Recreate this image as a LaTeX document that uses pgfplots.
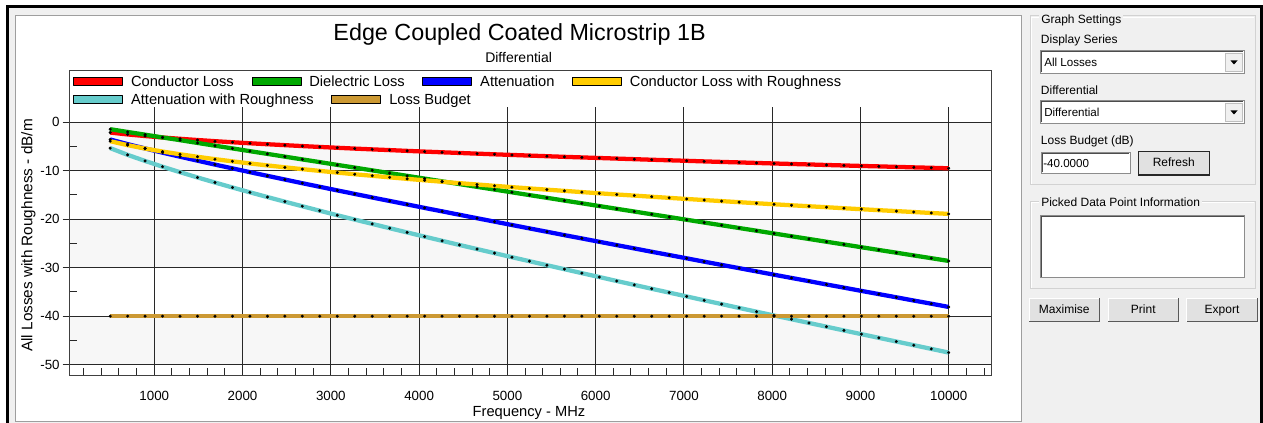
\documentclass[border=0pt]{standalone}
\usepackage{fontspec}
\setmainfont{Liberation Sans}
\usepackage{pgfplots}
\usepackage{pgfplotstable}
\pgfplotsset{compat=1.18}
\definecolor{cRed}{RGB}{255,0,0}
\definecolor{cGreen}{RGB}{0,168,0}
\definecolor{cBlue}{RGB}{0,0,255}
\definecolor{cYellow}{RGB}{255,204,0}
\definecolor{cCyan}{RGB}{102,204,204}
\definecolor{cBrown}{RGB}{204,153,51}
\definecolor{panel}{RGB}{240,240,240}
\definecolor{band}{RGB}{247,247,247}
\definecolor{gridc}{RGB}{40,40,40}
\definecolor{etch}{RGB}{210,210,210}
\definecolor{btn}{RGB}{225,225,225}

\pgfplotstableread{
f c d a cr ar lb
500 -2.12 -1.43 -3.55 -3.90 -5.33 -40
697.9 -2.51 -2.00 -4.51 -4.72 -6.72 -40
895.8 -2.84 -2.56 -5.40 -5.42 -7.98 -40
1093.8 -3.14 -3.13 -6.27 -6.04 -9.17 -40
1291.7 -3.41 -3.69 -7.10 -6.60 -10.30 -40
1489.6 -3.66 -4.26 -7.92 -7.12 -11.38 -40
1687.5 -3.90 -4.83 -8.73 -7.61 -12.43 -40
1885.4 -4.12 -5.39 -9.51 -8.06 -13.45 -40
2083.3 -4.33 -5.96 -10.29 -8.49 -14.45 -40
2281.3 -4.53 -6.52 -11.05 -8.90 -15.42 -40
2479.2 -4.72 -7.09 -11.81 -9.29 -16.38 -40
2677.1 -4.91 -7.66 -12.57 -9.67 -17.32 -40
2875.0 -5.09 -8.22 -13.31 -10.03 -18.25 -40
3072.9 -5.26 -8.79 -14.05 -10.38 -19.17 -40
3270.8 -5.43 -9.35 -14.78 -10.72 -20.07 -40
3468.8 -5.59 -9.92 -15.51 -11.04 -20.96 -40
3666.7 -5.74 -10.49 -16.23 -11.36 -21.85 -40
3864.6 -5.90 -11.05 -16.95 -11.67 -22.72 -40
4062.5 -6.05 -11.62 -17.67 -11.97 -23.59 -40
4260.4 -6.19 -12.18 -18.37 -12.27 -24.45 -40
4458.3 -6.33 -12.75 -19.08 -12.56 -25.31 -40
4656.3 -6.47 -13.32 -19.79 -12.83 -26.15 -40
4854.2 -6.61 -13.88 -20.49 -13.11 -26.99 -40
5052.1 -6.74 -14.45 -21.19 -13.38 -27.83 -40
5250.0 -6.87 -15.02 -21.89 -13.64 -28.65 -40
5447.9 -7.00 -15.58 -22.58 -13.90 -29.48 -40
5645.8 -7.13 -16.15 -23.28 -14.15 -30.30 -40
5843.8 -7.25 -16.71 -23.96 -14.40 -31.12 -40
6041.7 -7.37 -17.28 -24.65 -14.65 -31.92 -40
6239.6 -7.49 -17.85 -25.34 -14.89 -32.74 -40
6437.5 -7.61 -18.41 -26.02 -15.12 -33.54 -40
6635.4 -7.73 -18.98 -26.71 -15.36 -34.34 -40
6833.3 -7.84 -19.54 -27.38 -15.59 -35.13 -40
7031.3 -7.95 -20.11 -28.06 -15.82 -35.92 -40
7229.2 -8.07 -20.68 -28.75 -16.04 -36.72 -40
7427.1 -8.18 -21.24 -29.42 -16.26 -37.50 -40
7625.0 -8.28 -21.81 -30.09 -16.48 -38.29 -40
7822.9 -8.39 -22.37 -30.76 -16.70 -39.07 -40
8020.8 -8.50 -22.94 -31.44 -16.91 -39.85 -40
8218.8 -8.60 -23.51 -32.11 -17.12 -40.62 -40
8416.7 -8.70 -24.07 -32.77 -17.32 -41.39 -40
8614.6 -8.81 -24.64 -33.45 -17.52 -42.16 -40
8812.5 -8.91 -25.20 -34.11 -17.73 -42.94 -40
9010.4 -9.01 -25.77 -34.78 -17.93 -43.70 -40
9208.3 -9.10 -26.34 -35.44 -18.13 -44.46 -40
9406.3 -9.20 -26.90 -36.10 -18.32 -45.22 -40
9604.2 -9.30 -27.47 -36.77 -18.51 -45.98 -40
9802.1 -9.39 -28.03 -37.42 -18.71 -46.74 -40
10000 -9.49 -28.60 -38.09 -18.90 -47.50 -40
}\losstable

\pgfplotsset{
  lossaxis/.style={
    at={(52.275pt,35.25pt)}, anchor=south west,
    scale only axis, width=690.975pt, height=201.525pt,
    xmin=41.6, xmax=10479, ymin=-52.33, ymax=3.09,
    legend image code/.code={\filldraw[##1,draw=black,line width=0.6pt] (0pt,-3pt) rectangle (36.75pt,3pt);},
    legend style={draw=none, fill=none, inner sep=0pt, column sep=0pt,
      font=\fontsize{11}{13}\selectfont,
      nodes={inner sep=0pt, text height=7.9pt, text depth=0pt},
      /tikz/every odd column/.append style={column sep=6pt},
      /tikz/every even column/.append style={column sep=13.3pt}},
    legend columns=-1,
    legend cell align=left,
  },
  ser/.style={color=#1, line width=3.2pt, line join=round, mark=*, mark size=1.05pt,
    mark options={fill=black, draw=black, line width=0.2pt, solid}},
}

\begin{document}
\begin{tikzpicture}[x=0.75pt,y=0.75pt]
\useasboundingbox (0,0) rectangle (1263,423);
% window background
\fill[white] (0,0) rectangle (1263,423);
\fill[panel] (6,0) rectangle (1263,417.5);
\fill[black] (6,414.5) rectangle (1263,417.5);
\fill[black] (6,0) rectangle (9,417.5);
\fill[black] (1259.5,0) rectangle (1263,417.5);
\filldraw[fill=white, draw=black!38, line width=0.75pt] (15.5,1.5) rectangle (1021.5,407.5);
% alternating bands of the plot area
\fill[band] (69.7,252.2) rectangle (991,300.7);
\fill[band] (69.7,155.2) rectangle (991,203.7);
\fill[band] (69.7,58.3) rectangle (991,106.8);

\begin{axis}[lossaxis,
  axis line style={draw=none},
  scaled x ticks=false, scaled y ticks=false,
  xtick={1000,2000,...,10000},
  minor xtick={200,400,...,10400},
  ytick={-50,-40,...,0},
  minor ytick={-45,-35,...,-5},
  xmajorgrids, ymajorgrids,
  major grid style={gridc, line width=0.75pt},
  tick align=outside,
  xtick pos=bottom, ytick pos=left,
  major tick length=5.25pt,
  minor tick length=5.8pt,
  tick style={gridc, line width=0.75pt},
  minor x tick style={yshift=5.8pt},
  major x tick style={yshift=5.25pt},
  minor y tick style={xshift=5.8pt},
  tick label style={font=\fontsize{10}{12}\selectfont},
  xticklabel style={anchor=base, inner sep=0pt, yshift=-12.9pt},
  yticklabel style={anchor=east, inner sep=0pt, xshift=-2.1pt},
  /pgf/number format/assume math mode=true,
  /pgf/number format/set thousands separator={},
  xlabel={Frequency - MHz},
  ylabel={All Losses with Roughness - dB/m},
  xlabel style={at={(axis description cs:0.4985,0)}, anchor=base, yshift=-30.75pt, font=\fontsize{11}{13}\selectfont},
  ylabel style={at={(axis description cs:-0.0447,0.523)}, anchor=center, font=\fontsize{11.5}{13}\selectfont},
  legend style={at={(axis description cs:0.0036,1.0971)}, anchor=west},
]
\addplot[ser=cRed] table[x=f,y=c]{\losstable};
\addlegendentry{Conductor Loss}
\addplot[ser=cGreen] table[x=f,y=d]{\losstable};
\addlegendentry{Dielectric Loss}
\addplot[ser=cBlue] table[x=f,y=a]{\losstable};
\addlegendentry{Attenuation}
\addplot[ser=cYellow] table[x=f,y=cr]{\losstable};
\addlegendentry{Conductor Loss with Roughness}
\end{axis}

\begin{axis}[lossaxis, hide axis,
  legend style={at={(axis description cs:0.0036,1.0287)}, anchor=west},
]
\addplot[ser=cCyan] table[x=f,y=ar]{\losstable};
\addlegendentry{Attenuation with Roughness}
\addplot[ser=cBrown] table[x=f,y=lb]{\losstable};
\addlegendentry{Loss Budget}
\end{axis}

% plot frame
\draw[black!75, line width=0.75pt] (69.7,47) rectangle (991,352.3);
% titles
\node[anchor=base, inner sep=0pt, font=\fontsize{17.5}{20}\selectfont] at (519.6,382) {Edge Coupled Coated Microstrip 1B};
\node[anchor=base, inner sep=0pt, font=\fontsize{10.5}{12}\selectfont] at (518.6,360) {Differential};

% ---- right-hand settings panel ----
\begin{scope}[font=\fontsize{9}{11}\selectfont]
% group box 1
\draw[etch, line width=0.75pt] (1030,238) rectangle (1255.7,407);
\draw[white, line width=0.75pt] (1031.3,239.3) -- (1031.3,405.7) -- (1254.4,405.7);
\node[anchor=base west, fill=panel, inner xsep=1.5pt, inner ysep=1.5pt] at (1039,399) {Graph Settings};
\node[anchor=base west, inner sep=0pt] at (1040.7,379.5) {Display Series};
% combo 1
\filldraw[fill=white, draw=black!45, line width=0.75pt] (1040.7,349.7) rectangle (1244.3,372);
\draw[black!70, line width=0.75pt] (1041.7,350.7) -- (1041.7,371) -- (1243.3,371);
\filldraw[fill=panel, draw=black!25, line width=0.5pt] (1225,352) rectangle (1242.5,369.5);
\fill[black] (1230.5,362.5) -- (1237.5,362.5) -- (1234,358.5) -- cycle;
\node[anchor=base west, inner sep=0pt, font=\fontsize{8.7}{10}\selectfont] at (1044,356.5) {All Losses};
\node[anchor=base west, inner sep=0pt] at (1040.7,328.5) {Differential};
% combo 2
\filldraw[fill=white, draw=black!45, line width=0.75pt] (1040.7,299.7) rectangle (1244.3,322);
\draw[black!70, line width=0.75pt] (1041.7,300.7) -- (1041.7,321) -- (1243.3,321);
\filldraw[fill=panel, draw=black!25, line width=0.5pt] (1225,302) rectangle (1242.5,319.5);
\fill[black] (1230.5,312.5) -- (1237.5,312.5) -- (1234,308.5) -- cycle;
\node[anchor=base west, inner sep=0pt, font=\fontsize{8.7}{10}\selectfont] at (1044,306) {Differential};
\node[anchor=base west, inner sep=0pt] at (1040.7,278) {Loss Budget (dB)};
% text box
\filldraw[fill=white, draw=black!45, line width=0.75pt] (1041,249.7) rectangle (1130,270.7);
\draw[black!70, line width=0.75pt] (1042,250.7) -- (1042,269.7) -- (1129,269.7);
\node[anchor=base west, inner sep=0pt, font=\fontsize{8.7}{10}\selectfont] at (1043,255) {-40.0000};
% refresh button
\filldraw[fill=btn, draw=black!85, line width=1pt] (1138.3,248) rectangle (1209.3,271.3);
\node[anchor=base, inner sep=0pt] at (1173.8,256) {Refresh};
% group box 2
\draw[etch, line width=0.75pt] (1030,134) rectangle (1255.7,221.3);
\draw[white, line width=0.75pt] (1031.3,135.3) -- (1031.3,220) -- (1254.4,220);
\node[anchor=base west, fill=panel, inner xsep=1.5pt, inner ysep=1.5pt] at (1039,216.5) {Picked Data Point Information};
\filldraw[fill=white, draw=black!45, line width=0.75pt] (1040.7,145.3) rectangle (1244.7,207);
\draw[black!70, line width=0.75pt] (1041.7,146.3) -- (1041.7,206) -- (1243.7,206);
% buttons
\foreach \xa/\xb/\lab in {1029.3/1099.3/Maximise, 1108.3/1178.3/Print, 1186.7/1257.3/Export}{
  \fill[btn] (\xa,101.3) rectangle (\xb,124.7);
  \draw[white, line width=0.75pt] (\xa,101.3) -- (\xa,124.7) -- (\xb,124.7);
  \draw[black!65, line width=1.2pt] (\xa,101.3) -- (\xb,101.3) -- (\xb,124.7);
  \node[anchor=base, inner sep=0pt] at ({(\xa+\xb)/2},109) {\lab};
}
\end{scope}
\end{tikzpicture}
\end{document}
